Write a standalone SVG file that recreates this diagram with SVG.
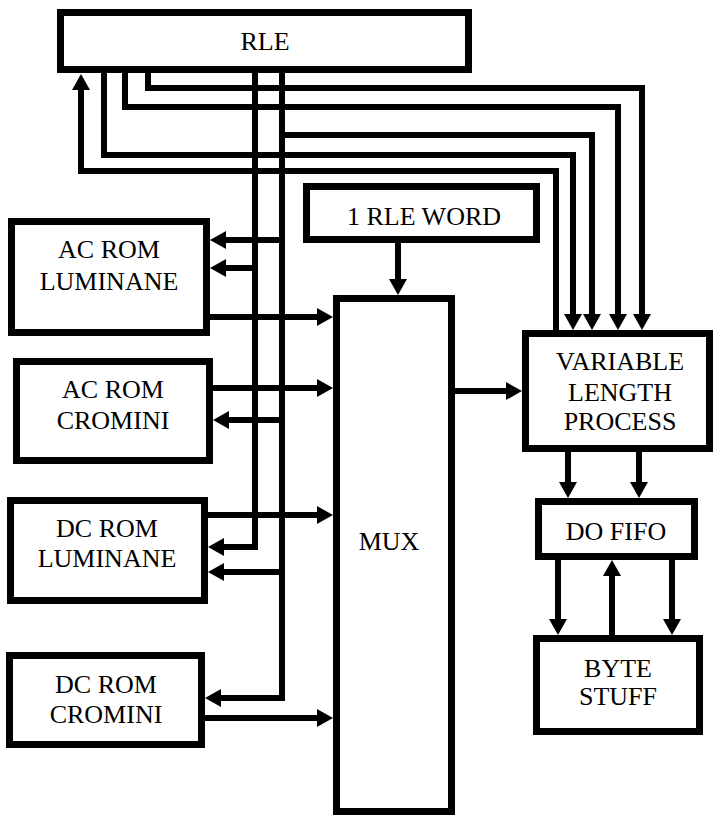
<svg xmlns="http://www.w3.org/2000/svg" width="715" height="815" viewBox="0 0 715 815">
<style>
.box{fill:#fff;stroke:#000;stroke-width:7}
.lbl{font-family:'Liberation Serif','Times New Roman',serif;font-size:26px;fill:#000;text-anchor:middle}
.con{fill:none;stroke:#000;stroke-width:6;stroke-linejoin:miter}
.arr{marker-end:url(#ah)}
</style>
<defs>
<marker id="ah" markerUnits="userSpaceOnUse" markerWidth="16" markerHeight="18" viewBox="0 0 16 18" refX="0" refY="9" orient="auto">
<path d="M0,0 L16,9 L0,18 Z" fill="#000"/>
</marker>
</defs>
<rect width="715" height="815" fill="#fff"/>
<g id="connectors">
<path class="con arr" d="M556,332 V171 H81 V90"/>
<path class="con arr" d="M104,70 V155 H573 V314"/>
<path class="con arr" d="M125,70 V107 H618 V314"/>
<path class="con arr" d="M148,70 V88 H642 V314"/>
<path class="con arr" d="M282,135 H592 V314"/>
<path class="con arr" d="M255,70 V547 H224"/>
<path class="con arr" d="M282,70 V698 H221"/>
<path class="con arr" d="M282,240 H226"/>
<path class="con arr" d="M255,268 H226"/>
<path class="con arr" d="M282,420 H229"/>
<path class="con arr" d="M282,572 H224"/>
<path class="con arr" d="M209,317 H317"/>
<path class="con arr" d="M209,388 H317"/>
<path class="con arr" d="M207,515 H317"/>
<path class="con arr" d="M204,718 H317"/>
<path class="con arr" d="M398,242 V279"/>
<path class="con arr" d="M454,391 H506"/>
<path class="con arr" d="M568,451 V482"/>
<path class="con arr" d="M639,451 V482"/>
<path class="con arr" d="M558,559 V619"/>
<path class="con arr" d="M672,559 V619"/>
<path class="con arr" d="M612,636 V576"/>
</g>
<g id="rle"><rect class="box" x="60.5" y="12.5" width="408" height="57"/><text class="lbl" x="265" y="50">RLE</text></g>
<g id="rleword"><rect class="box" x="306.5" y="186.5" width="230" height="53"/><text class="lbl" x="424" y="225">1 RLE WORD</text></g>
<g id="acromlum"><rect class="box" x="11.5" y="221.5" width="195" height="111"/><text class="lbl" x="109" y="258">AC ROM</text><text class="lbl" x="109" y="290">LUMINANE</text></g>
<g id="acromcrom"><rect class="box" x="16.5" y="361.5" width="193" height="99"/><text class="lbl" x="113" y="398">AC ROM</text><text class="lbl" x="113" y="429">CROMINI</text></g>
<g id="dcromlum"><rect class="box" x="10.5" y="500.5" width="194" height="100"/><text class="lbl" x="107" y="537">DC ROM</text><text class="lbl" x="107" y="567">LUMINANE</text></g>
<g id="dcromcrom"><rect class="box" x="9.5" y="655.5" width="192" height="89"/><text class="lbl" x="106" y="693">DC ROM</text><text class="lbl" x="106" y="723">CROMINI</text></g>
<g id="mux"><rect class="box" x="336.5" y="298.5" width="115" height="513"/><text class="lbl" x="389" y="550">MUX</text></g>
<g id="vlp"><rect class="box" x="525.5" y="333.5" width="184" height="115"/><text class="lbl" x="620" y="370">VARIABLE</text><text class="lbl" x="620" y="401">LENGTH</text><text class="lbl" x="620" y="430">PROCESS</text></g>
<g id="dofifo"><rect class="box" x="538.5" y="501.5" width="156" height="55"/><text class="lbl" x="616" y="540">DO FIFO</text></g>
<g id="bytestuff"><rect class="box" x="536.5" y="638.5" width="163" height="93"/><text class="lbl" x="618" y="677">BYTE</text><text class="lbl" x="618" y="705">STUFF</text></g>
</svg>
